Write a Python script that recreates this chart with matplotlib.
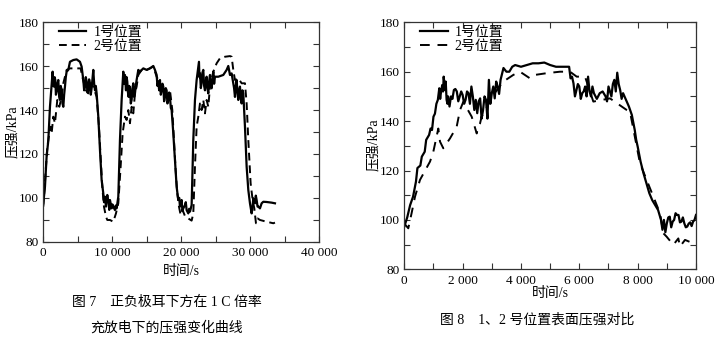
import matplotlib
matplotlib.use("Agg")
import matplotlib.pyplot as plt
from matplotlib.ticker import MultipleLocator, FuncFormatter

plt.rcParams['font.family'] = ['Liberation Serif', 'Noto Sans CJK SC']
plt.rcParams['axes.unicode_minus'] = False

# ---------------- Figure 7 data (time s, pressure kPa) ----------------
f7_t1 = [0, 240, 480, 725, 966, 1208, 1350, 1546, 1740, 1932, 2174, 2415, 2657, 2900, 3140,
         3380, 3623, 3865, 4348, 4830, 5314, 5555, 5797, 6040, 6280, 6520, 6763, 7005, 7246,
         7488, 7730, 7971, 8213, 8454, 8696, 8937, 9082, 9275, 9468, 9662, 9903, 10145, 10386,
         10628, 10870, 11111, 11353, 11594, 11836, 11980, 12173, 12367, 12560, 12802, 13043,
         13285, 13526, 13768, 14010, 14493, 14976, 15459, 15942, 16183, 16425, 16667, 16908,
         17150, 17391, 17633, 17874, 18116, 18357, 18599, 18840, 19082, 19324, 19565, 19807,
         20048, 20290, 20531, 20773, 21014, 21256, 21497, 21739, 21981, 22222, 22560, 22705,
         22947, 23188, 23430, 23671, 23913, 24155, 24396, 24638, 24879, 25362, 26087, 26570,
         26812, 27053, 27295, 27536, 27778, 28019, 28261, 28502, 28744, 28986, 29227, 29469,
         29710, 29952, 30193, 30435, 30676, 30918, 31159, 31401, 31643, 31884, 32367, 33092,
         33575]
f7_p1 = [97.5, 105, 118.8, 126, 141.5, 152, 157.5, 150.7, 153.7, 148.4, 153.7, 144.6, 149,
         141.5, 150.7, 157.5, 158.3, 162, 162.8, 163.1, 162, 159.8, 153.7, 150.7, 153, 149,
         152.2, 150, 158.3, 149, 147.6, 137, 121.8, 108.1, 102, 100.5, 96, 101.3, 97.5, 99,
         95.2, 96, 94.4, 95.2, 100.5, 126.4, 144.6, 157.5, 156, 149, 152.9, 146, 150, 144.6,
         152.2, 147.6, 153.7, 158.3, 157.5, 159, 158.3, 159, 160.1, 158.3, 156, 153, 153.7,
         149, 150.7, 146, 149, 144.6, 146, 140, 129.4, 117.2, 105, 99, 96, 99, 95.2, 96.7,
         94.4, 92.9, 93.7, 96.7, 126.4, 144.6, 153.7, 162, 156.7, 152.2, 158.3, 149, 155.2,
         147.6, 156, 149.9, 157.5, 155.2, 155.2, 156, 158.3, 160.1, 156, 156.7, 152.2, 146,
         153.7, 144.6, 150.7, 143, 147.6, 132.4, 114.2, 103.6, 97.5, 92.9, 99.8, 97.5, 99,
         96, 95.2, 97.5, 98.2, 98.1, 97.8, 97.5]
f7_t1_detail = [1450, 1640, 1830, 2050, 2300, 2530, 2780, 3020, 3260,
                5920, 6160, 6400, 6640, 6880, 7120, 7370, 7610,
                11715, 12080, 12270, 12460, 12680, 12920, 13160, 13400, 13650,
                16545, 16790, 17030, 17270, 17510, 17750, 17990, 18240, 18480,
                8800, 9180, 9560, 10020, 10500, 19700, 20160, 20650, 21130,
                22630, 22830, 23060, 23310, 23550, 23790, 24030, 24280, 24520, 24760,
                27650, 27900, 28140, 28380, 28620, 28860, 30300, 30800, 31050]
f7_p1_detail = [151, 155, 147, 152, 146, 151, 143, 147, 155,
                149, 155, 148, 154, 147, 154, 152, 151,
                152, 155, 148, 151, 143, 150, 146, 151, 156,
                151, 149, 147, 152, 144, 150, 143, 148, 141,
                98, 99, 94.5, 97, 96.5, 100, 94, 98, 95,
                155, 150, 157, 151, 153, 150, 153, 151, 154, 152,
                150, 151, 148, 149, 146, 149, 95, 101, 96]

f7_t2 = [0, 386, 580, 870, 1063, 1208, 1450, 1690, 2029, 2319, 2657, 2900, 3140, 3380, 3865,
         4830, 5410, 5652, 5893, 6183, 6520, 6763, 7246, 7730, 8068, 8309, 8550, 8792, 9082,
         9275, 9662, 10145, 10531, 10870, 11208, 11498, 11836, 12077, 12319, 12560, 12802,
         13043, 13285, 13526, 13768, 14251, 14976, 15942, 16425, 16908, 17391, 17874, 18357,
         18696, 18937, 19179, 19420, 19662, 19903, 20193, 20531, 21014, 21497, 21739, 21981,
         22222, 22464, 22705, 22947, 23188, 23430, 23671, 23913, 24155, 24638, 25121, 25604,
         26329, 27053, 27295, 27536, 27778, 28261, 28744, 29227, 29469, 29710, 30048, 30338,
         30580, 30821, 31063, 31401, 32367, 33333, 33575]
f7_p2 = [96, 114.2, 123.3, 129.4, 132.4, 129.4, 137, 134, 144.6, 141.5, 146, 152.2, 155.2,
         158.3, 159, 159, 159, 155.2, 152.2, 149, 147.6, 152.2, 150.7, 146, 132.4, 118.8, 105,
         96, 91.4, 89.9, 89.9, 89.1, 92.9, 97.5, 114.2, 129.4, 137, 135.5, 140, 134, 141.5,
         138.5, 147.6, 150.7, 156, 158.3, 158.3, 159.8, 155.2, 152.2, 147.6, 146, 149, 140,
         126.4, 112.7, 102, 96, 92.2, 94.4, 91.7, 90.6, 89.6, 92.9, 114.2, 132.4, 137, 143,
         140, 144.6, 138.5, 144.6, 141.5, 150.7, 157.5, 161.3, 163.6, 164.3, 164.6, 164.3,
         158.3, 153.7, 154.5, 152.2, 152.2, 143, 126.4, 106.6, 99, 95.2, 88.4, 90.6, 89.9,
         89.1, 88.4, 88.7]

# ---------------- Figure 8 data (time s, pressure kPa) ----------------
f8_t1 = [0, 100, 200, 300, 400, 450, 550, 600, 700, 750, 850, 900, 950, 1000, 1050, 1100,
         1150, 1200, 1250, 1300, 1350, 1400, 1450, 1500, 1550, 1600, 1700, 1800, 1900, 2000,
         2100, 2200, 2300, 2400, 2450, 2500, 2600, 2700, 2800, 2850, 2900, 3000, 3050, 3100,
         3200, 3300, 3400, 3500, 3600, 3700, 3800, 4000, 4200, 4400, 4600, 4800, 5000, 5200,
         5400, 5650, 5700, 5800, 5900, 6000, 6100, 6200, 6300, 6400, 6500, 6700, 6900, 7000,
         7100, 7200, 7300, 7400, 7500, 7600, 7700, 7800, 7900, 7950, 8000, 8100, 8200, 8300,
         8400, 8500, 8600, 8700, 8800, 8850, 8900, 9000, 9100, 9200, 9300, 9400, 9500, 9600,
         9700, 9800, 9900, 10000]
f8_p1 = [97.3, 101, 106, 109.4, 115.5, 121, 122, 125.6, 127.6, 132.4, 134.4, 137, 136.4,
         141.8, 143, 147, 148.6, 153.3, 151, 154.6, 158, 152.6, 148.6, 150, 145.9, 150, 152.6,
         152, 150, 150.6, 148.6, 151.3, 154, 144.5, 148.6, 143.2, 149.2, 144.5, 148.6, 141,
         156.7, 151.3, 154, 149.2, 154, 156.7, 161.5, 160, 160, 162, 162.7, 162, 162.7, 163.4,
         163.4, 163.7, 162.7, 162, 162, 162, 157.3, 155.3, 152.6, 154, 151.3, 154, 158, 150,
         151.3, 151.3, 150, 154, 150, 156.7, 159.6, 152.6, 151.3, 148.6, 145.9, 142.5, 136.4,
         132.4, 129.7, 123.6, 118.9, 114.8, 110.8, 108, 106, 104, 100, 96, 100, 98.6, 101.3,
         99.3, 102.7, 102, 99.3, 98.6, 97.3, 99, 99.3, 102]
f8_t1_detail = [1230, 1330, 1420, 1480, 1650, 1750, 1850, 1950, 2050, 2150, 2250, 2350,
                2550, 2650, 2750, 2950, 3150, 3250, 5750, 5850, 5950, 6050, 6150, 6250,
                6350, 6450, 6600, 6800, 6950, 7050, 7150, 7250, 7350, 7450, 8950, 9050,
                9150, 9250, 9350, 9450, 9550, 9650, 9750, 9850, 9950]
f8_p1_detail = [149, 152, 156, 147, 149, 153, 148, 152, 147, 152, 147, 150,
                148, 141, 150, 147, 156, 151, 158, 150, 155, 149, 152, 150,
                152, 154, 149, 152, 148, 152, 155, 152, 155, 149, 95, 101,
                97, 100, 102, 99, 101, 97, 98.5, 97.5, 100]

f8_t2 = [0, 137, 250, 367, 538, 881, 995, 1166, 1224, 1337, 1567, 1795, 1910, 2023, 2310,
         2482, 2537, 2595, 2651, 3051, 3394, 3737, 3966, 4309, 4480, 4880, 5337, 5680, 5910,
         6195, 6480, 7051, 7623, 7737, 8080, 8766, 8880, 8994, 9223, 9394, 9451, 9623, 9909,
         9966]
f8_p2 = [98.5, 96.6, 102.7, 109.4, 116.2, 123.6, 127.6, 137, 131.7, 129, 133, 137.7, 144.5,
         147.8, 141.8, 135, 137.8, 139, 141.8, 150.6, 156, 158.7, 160, 157.3, 158.7, 159.4,
         160, 160, 158, 158, 147.9, 149.2, 144.5, 143.8, 122.9, 102.7, 94.6, 93.2, 89.9, 92.5,
         89.2, 91.9, 90.5, 89.9]

labels = ["1号位置", "2号位置"]
ylabel = "压强/kPa"
xlabel = "时间/s"
cap7 = ["图 7　正负极耳下方在 1 C 倍率", "充放电下的压强变化曲线"]
cap8 = "图 8　1、2 号位置表面压强对比"


def merged(t, p, td, pd):
    pairs = sorted(list(zip(t, p)) + list(zip(td, pd)))
    return [a for a, _ in pairs], [b for _, b in pairs]


fig = plt.figure(figsize=(7.19, 3.52), dpi=100)
W, H = 719, 352


def axes_px(x0, y0, x1, y1):
    return fig.add_axes([x0 / W, 1 - y1 / H, (x1 - x0) / W, (y1 - y0) / H])


def thousands(v, pos):
    v = int(round(v))
    if v == 0:
        return "0"
    return f"{v:,}".replace(",", " ")


def style(ax, xmax, xmaj, xmin):
    ax.set_xlim(0, xmax)
    ax.set_ylim(80, 180)
    ax.xaxis.set_major_locator(MultipleLocator(xmaj))
    ax.xaxis.set_minor_locator(MultipleLocator(xmin))
    ax.yaxis.set_major_locator(MultipleLocator(20))
    ax.yaxis.set_minor_locator(MultipleLocator(10))
    ax.xaxis.set_major_formatter(FuncFormatter(thousands))
    ax.tick_params(which='both', direction='in', top=True, right=True,
                   labelsize=9.5, color='#333333')
    ax.tick_params(which='both', length=4, width=0.8)
    ax.tick_params(axis='x', pad=4)
    for s in ax.spines.values():
        s.set_linewidth(0.9)
        s.set_color('#333333')


def legend(ax):
    ax.legend(loc='upper left', frameon=False, fontsize=10, handlelength=2.0,
              handletextpad=0.5, borderaxespad=0.1, labelspacing=0.1,
              bbox_to_anchor=(0.03, 1.015))


# Figure 7
ax1 = axes_px(43.3, 22.3, 319.3, 241.7)
t, p = merged(f7_t1, f7_p1, f7_t1_detail, f7_p1_detail)
ax1.plot(t, p, color='black', lw=1.6, label=labels[0])
ax1.plot(f7_t2, f7_p2, color='black', lw=1.4, ls=(0, (4, 2.5)), label=labels[1])
style(ax1, 40000, 10000, 5000)
legend(ax1)

# Figure 8
ax2 = axes_px(404.3, 22.3, 696.0, 269.3)
t, p = merged(f8_t1, f8_p1, f8_t1_detail, f8_p1_detail)
ax2.plot(t, p, color='black', lw=1.6, label=labels[0])
ax2.plot(f8_t2, f8_p2, color='black', lw=1.4, ls=(0, (5, 4)), label=labels[1])
style(ax2, 10000, 2000, 1000)
legend(ax2)

# axis labels
fig.text(12 / W, 1 - 132 / H, ylabel, rotation=90, ha='center', va='center', fontsize=10)
fig.text(181 / W, 1 - 271 / H, xlabel, ha='center', va='center', fontsize=10)
fig.text(373 / W, 1 - 145 / H, ylabel, rotation=90, ha='center', va='center', fontsize=10)
fig.text(550 / W, 1 - 293 / H, xlabel, ha='center', va='center', fontsize=10)

# captions
fig.text(167 / W, 1 - 302 / H, cap7[0], ha='center', va='center', fontsize=10)
fig.text(167 / W, 1 - 328 / H, cap7[1], ha='center', va='center', fontsize=10)
fig.text(537 / W, 1 - 320 / H, cap8, ha='center', va='center', fontsize=10)

fig.savefig("out.png", dpi=100)
